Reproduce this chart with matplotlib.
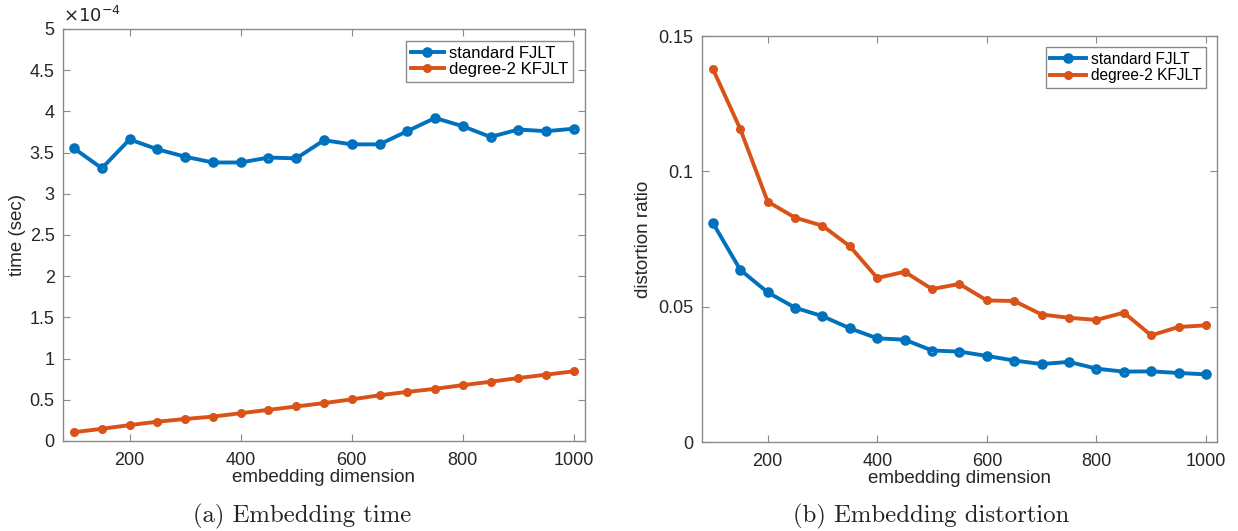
import matplotlib
matplotlib.use("Agg")
import matplotlib.pyplot as plt
from matplotlib.ticker import FuncFormatter

# embedding dimension
dims = [100, 150, 200, 250, 300, 350, 400, 450, 500, 550,
        600, 650, 700, 750, 800, 850, 900, 950, 1000]

# (a) embedding time, seconds
time_fjlt = [3.55e-4, 3.31e-4, 3.66e-4, 3.54e-4, 3.45e-4, 3.38e-4, 3.38e-4, 3.44e-4, 3.43e-4, 3.65e-4,
             3.60e-4, 3.60e-4, 3.76e-4, 3.92e-4, 3.82e-4, 3.69e-4, 3.78e-4, 3.76e-4, 3.79e-4]
time_kfjlt = [0.107e-4, 0.148e-4, 0.193e-4, 0.234e-4, 0.267e-4, 0.296e-4, 0.337e-4, 0.378e-4, 0.419e-4, 0.46e-4,
              0.505e-4, 0.555e-4, 0.596e-4, 0.633e-4, 0.678e-4, 0.719e-4, 0.764e-4, 0.805e-4, 0.846e-4]

# (b) distortion ratio
dist_fjlt = [0.0809, 0.0636, 0.0553, 0.0496, 0.0465, 0.0420, 0.0383, 0.0378, 0.0338, 0.0334,
             0.0318, 0.0301, 0.0288, 0.0296, 0.0271, 0.0260, 0.0261, 0.0255, 0.0250]
dist_kfjlt = [0.1378, 0.1156, 0.0888, 0.0829, 0.0799, 0.0723, 0.0606, 0.0629, 0.0565, 0.0584,
              0.0523, 0.0521, 0.0471, 0.0459, 0.0451, 0.0478, 0.0394, 0.0425, 0.0431]

labels = ["standard FJLT", "degree-2 KFJLT"]
azul = "#0072BD"
naranja = "#D95319"

plt.rcParams['font.family'] = ['Liberation Sans', 'DejaVu Sans']
plt.rcParams['axes.unicode_minus'] = False

fig = plt.figure(figsize=(12.38, 5.31), dpi=100)
ax1 = fig.add_axes([0.0509, 0.1695, 0.4216, 0.7759])
ax2 = fig.add_axes([0.567, 0.1676, 0.416, 0.7646])

texto = "#262626"
borde = "#8a8a8a"


def estilo(ax):
    ax.tick_params(axis="both", direction="in", top=True, right=True, length=5,
                   labelsize=13, colors=borde, labelcolor=texto)
    ax.tick_params(axis="x", pad=8)
    ax.tick_params(axis="y", pad=6)
    for s in ax.spines.values():
        s.set_color(borde)
        s.set_linewidth(1.0)
    ax.set_xlim(80, 1020)
    ax.set_xticks([200, 400, 600, 800, 1000])
    ax.set_xlabel("embedding dimension", fontsize=13.5, color=texto, labelpad=0)


def lineas(ax, y1, y2):
    ax.plot(dims, y1, color=azul, lw=2.8, marker="o", ms=4.8, mew=2.8,
            mfc="none", mec=azul, label=labels[0])
    ax.plot(dims, y2, color=naranja, lw=2.8, marker="o", ms=5.5,
            mfc=naranja, mec=naranja, label=labels[1])


def leyenda(ax, tam, manija):
    ax.legend(loc="upper right", fontsize=tam, fancybox=False, framealpha=1,
              edgecolor=borde, borderaxespad=0.7, handlelength=manija,
              handletextpad=0.3, borderpad=0.3, labelspacing=0.1)


# GRAFICA (a)
lineas(ax1, time_fjlt, time_kfjlt)
estilo(ax1)
ax1.set_ylim(0, 5e-4)
ax1.set_yticks([i * 0.5e-4 for i in range(11)])
ax1.yaxis.set_major_formatter(FuncFormatter(lambda v, p: f"{v * 1e4:g}"))
ax1.set_ylabel("time (sec)", fontsize=13.5, color=texto, labelpad=3)
ax1.text(0.0, 1.008, r"$\times10^{-4}$", transform=ax1.transAxes, fontsize=13,
         color=texto, ha="left", va="bottom")
leyenda(ax1, 12, 2.0)
fig.text(302 / 1238, 1 - 516 / 531, "(a) Embedding time", fontsize=17.8, family="cmr10",
         ha="center", va="center", color="#222222")

# GRAFICA (b)
lineas(ax2, dist_fjlt, dist_kfjlt)
estilo(ax2)
ax2.set_ylim(0, 0.15)
ax2.set_yticks([0, 0.05, 0.1, 0.15])
ax2.yaxis.set_major_formatter(FuncFormatter(lambda v, p: f"{v:g}"))
ax2.set_ylabel("distortion ratio", fontsize=13.5, color=texto, labelpad=5)
leyenda(ax2, 11.2, 2.3)
fig.text(931 / 1238, 1 - 516 / 531, "(b) Embedding distortion", fontsize=17.8, family="cmr10",
         ha="center", va="center", color="#222222")

fig.savefig("out.png", dpi=100)
